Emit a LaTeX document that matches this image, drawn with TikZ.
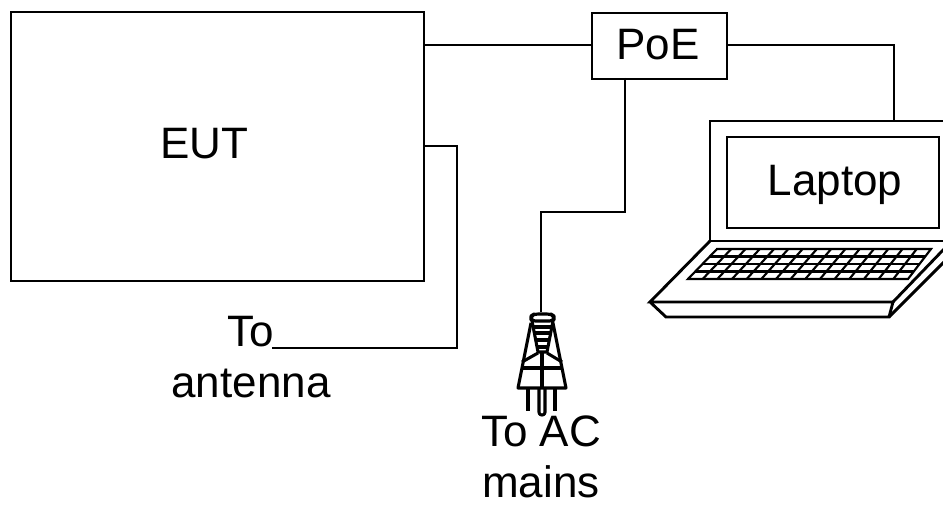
\documentclass[tikz,border=0pt]{standalone}
\usepackage{fontspec}
\setmainfont{Liberation Sans}
\usetikzlibrary{calc}
\tikzset{
 ln/.style={draw=black,line width=2.15pt,line join=miter},
 boxln/.style={draw=black,line width=1.8pt,line join=miter},
 plug/.style={draw=black,line width=2.3pt,line join=round},
 keys/.style={draw=black,line width=1.6pt},
 lbl/.style={inner sep=0pt,font=\fontsize{33}{38}\selectfont,align=center},
}
\begin{document}
\begin{tikzpicture}[x=0.75pt,y=-0.75pt]
\useasboundingbox (0,0) rectangle (943,505);
\begin{scope}
\clip (0,0) rectangle (943,505);
% EUT
\node[boxln,rectangle,inner sep=0pt,minimum width=413*0.75pt,minimum height=269*0.75pt,anchor=north west] (eut) at (10,11) {};
\node[boxln,rectangle,inner sep=0pt,minimum width=135*0.75pt,minimum height=66*0.75pt,anchor=north west] (poe) at (591,12) {};
\node[lbl] (euttext) at (204,144) {EUT};
\node[lbl] (poetext) at (658,45) {PoE};
% laptop
\coordinate (ltl) at (710,121);
\coordinate (ltr) at (950,121);
\coordinate (lbl1) at (710,241);
\coordinate (lbr) at (950,241);
\draw[ln] (lbr) -- (lbl1) -- (ltl) -- (ltr);
\node[boxln,rectangle,inner sep=0pt,minimum width=212*0.75pt,minimum height=91*0.75pt,anchor=north west] (screen) at (726,136) {};
\node[lbl] (laptext) at (835,185) {Laptop};
\coordinate (bl) at (650,302);
\coordinate (br) at (893,302);
\coordinate (fl) at (666,317);
\coordinate (fr) at (889,317);
\draw[ln] (lbl1) -- (bl) -- (br) -- (fr) -- (fl) -- (bl);
\draw[ln] (br) -- (945,248);
\draw[ln] (fr) -- (945,261);
% keyboard
\coordinate (ka) at (717,249);
\coordinate (kb) at (931,249);
\coordinate (kc) at (908,279);
\coordinate (kd) at (688,279);
\draw[keys] (ka) -- (kb) -- (kc) -- (kd) -- cycle;
\foreach \i in {1,2,3} {
  \draw[keys] ($(ka)!\i/4!(kd)$) -- ($(kb)!\i/4!(kc)$);
}
\foreach \i in {1,...,14} {
  \draw[keys] ($(ka)!\i/15!(kb)$) -- ($(kd)!\i/15!(kc)$);
}
% connectors
\draw[ln] (eut.east |- poetext) -- (poe.west |- poetext);
\draw[ln] (poe.east |- poetext) -- (894,45) -- (894,121);
\coordinate (plugtop) at (541,312);
\draw[ln] (625,78) -- (625,212) -- (541,212) -- (plugtop);
\coordinate (ant) at (272,348);
\draw[ln] (423,146) -- (457,146) -- (457,348) -- (ant);
% plug
\draw[plug,rounded corners=3pt] (531,321) -- (531,316) -- (534,314) -- (551,314) -- (554,316) -- (554,321) -- cycle;
\draw[plug] (532,321) -- (538,352) -- (547,352) -- (553,321);
\draw[plug] (534,327) -- (551,327) (535,333) -- (550,333) (536,340) -- (549,340) (537,347) -- (548,347);
\draw[plug] (531,323) -- (518,388) -- (566,388) -- (553,323);
\draw[plug] (521,368) -- (563,368);
\draw[plug] (522,362) -- (538,353) (562,362) -- (547,353);
\draw[plug] (542,352) -- (542,388);
\draw[plug,line width=2.8pt] (528,389) -- (528,411) (555,389) -- (555,411);
\draw[plug,rounded corners=2pt] (539,389) -- (539,415) -- (545,415) -- (545,389);
\end{scope}
\node[lbl] (to1) at (251,357) {To\\antenna};
\node[lbl] (to2) at (541,457) {To AC\\mains};
\end{tikzpicture}
\end{document}
